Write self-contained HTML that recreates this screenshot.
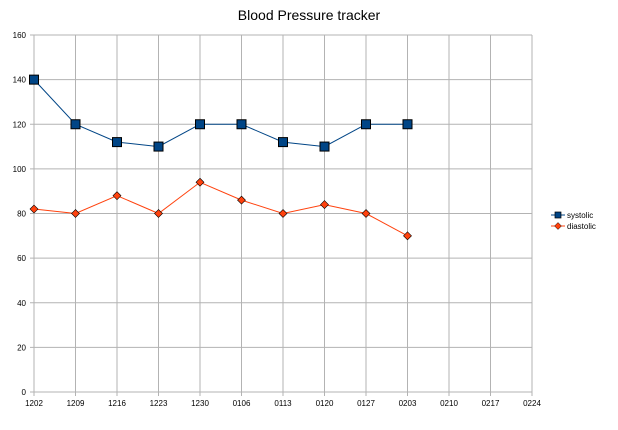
<!DOCTYPE html>
<html><head><meta charset="utf-8"><style>
body{margin:0;background:#fff;font-family:"Liberation Sans",sans-serif}
svg text{font-family:"Liberation Sans",sans-serif}
</style></head><body>
<svg id="chart" width="618" height="425">
<text x="309" y="20" text-anchor="middle" font-size="14">Blood Pressure tracker</text>
<g id="grid"></g><g id="series"></g>
<g>
<line x1="551" y1="215" x2="565" y2="215" stroke="#004586"/>
<rect x="555" y="212" width="6" height="6" fill="#004586" stroke="#000" stroke-width="0.7"/>
<text x="567" y="218" font-size="8">systolic</text>
<line x1="551" y1="226" x2="565" y2="226" stroke="#ff420e"/>
<polygon points="558,222.5 561.5,226 558,229.5 554.5,226" fill="#ff420e" stroke="#000" stroke-width="0.5"/>
<text x="567" y="229" font-size="8">diastolic</text>
</g>
</svg>
<script>
const categories=["1202","1209","1216","1223","1230","0106","0113","0120","0127","0203","0210","0217","0224"];
const systolic=[140,120,112,110,120,120,112,110,120,120];
const diastolic=[82,80,88,80,94,86,80,84,80,70];
const yTicks=[0,20,40,60,80,100,120,140,160];
const NS="http://www.w3.org/2000/svg";
const x0=34,x1=532,yTop=35,yBot=392;
const xs=i=>x0+i*(x1-x0)/(categories.length-1);
const ys=v=>yBot-v/160*(yBot-yTop);
function mk(t,a,p){const e=document.createElementNS(NS,t);for(const k in a)e.setAttribute(k,a[k]);p.appendChild(e);return e;}
const g=document.getElementById('grid'),s=document.getElementById('series');
yTicks.forEach(v=>{
 const l=mk('line',{x1:x0-4,x2:x1,y1:ys(v),y2:ys(v),stroke:'#b3b3b3'},g);
 
 
 const t=mk('text',{x:x0-8,y:ys(v)+3,'text-anchor':'end','font-size':'8'},g);t.textContent=v;
 
 
});
categories.forEach((c,i)=>{
 const l=mk('line',{x1:xs(i),x2:xs(i),y1:yTop,y2:yBot+4,stroke:'#b3b3b3'},g);
 
 
 const t=mk('text',{x:xs(i),y:yBot+14,'text-anchor':'middle','font-size':'8'},g);t.textContent=c;
 
 
});
function series(vals,color,shape,name){
 const pl=mk('polyline',{points:vals.map((v,i)=>xs(i)+','+ys(v)).join(' '),fill:'none',stroke:color,'stroke-width':1},s);
 
 
 vals.forEach((v,i)=>{
  let m;
  if(shape==='sq')m=mk('rect',{x:xs(i)-4.5,y:ys(v)-4.5,width:9,height:9,fill:color,stroke:'#000','stroke-width':1},s);
  else{const x=xs(i),y=ys(v);m=mk('polygon',{points:`${x},${y-4} ${x+4},${y} ${x},${y+4} ${x-4},${y}`,fill:color,stroke:'#000','stroke-width':0.6},s);}
  
  
 });
}
series(systolic,'#004586','sq','systolic');
series(diastolic,'#ff420e','di','diastolic');
</script>
</body></html>
